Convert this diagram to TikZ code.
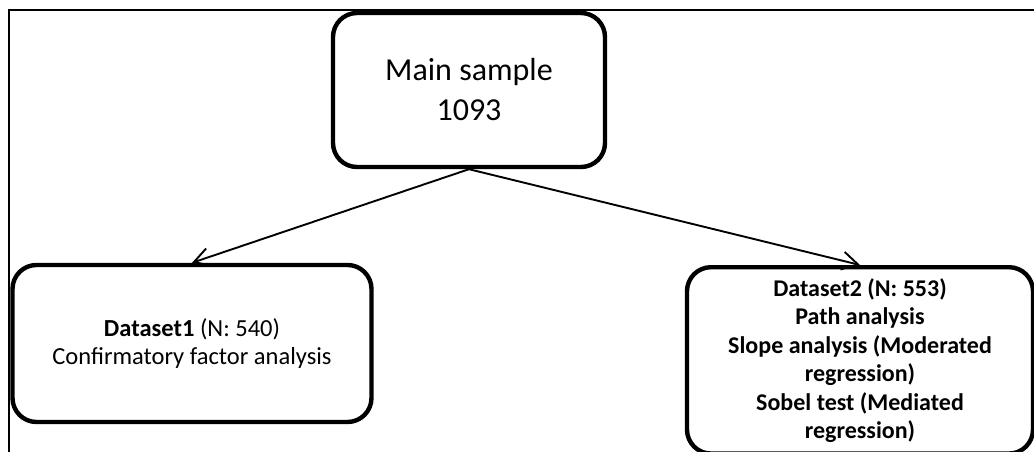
\documentclass[tikz,border=0pt]{standalone}
\usepackage{fontspec}
\setmainfont{Carlito}
\usetikzlibrary{arrows.meta}
\begin{document}
\begin{tikzpicture}[x=1pt,y=-1pt,
  box/.style={draw=black,line width=4.4pt,rounded corners=24pt,align=center,
    inner sep=0pt},
  link/.style={draw=black,line width=1.9pt,-{Straight Barb[length=16pt,width=18pt,line width=1.9pt]}},
  mainfont/.style={font=\fontsize{32}{40}\selectfont},
  subfont/.style={font=\fontsize{24.5}{28.5}\selectfont}]
\useasboundingbox (0,0) rectangle (1034,452);
\clip (0,0) rectangle (1034,452);
% page frame
\draw[line width=2.6pt] (9,452) -- (9,10) -- (1034,10);
% boxes
\node[box,mainfont,minimum width=272pt,minimum height=154pt] (main) at (469,90)
  {Main sample\\1093};
\node[box,subfont,minimum width=359pt,minimum height=157pt] (ds1) at (192,343.5)
  {\textbf{Dataset1} (N: 540)\\Confirmatory factor analysis};
\node[box,anchor=north,minimum width=346pt,inner ysep=11pt,
  font=\fontsize{24}{28.5}\selectfont\bfseries] (ds2) at (860,265)
  {Dataset2 (N: 553)\\Path analysis\\Slope analysis (Moderated\\regression)\\Sobel test (Mediated\\regression)};
% connectors
\draw[link] (main.south) -- (ds1.north);
\draw[link] (main.south) -- (ds2.north);
\end{tikzpicture}
\end{document}
